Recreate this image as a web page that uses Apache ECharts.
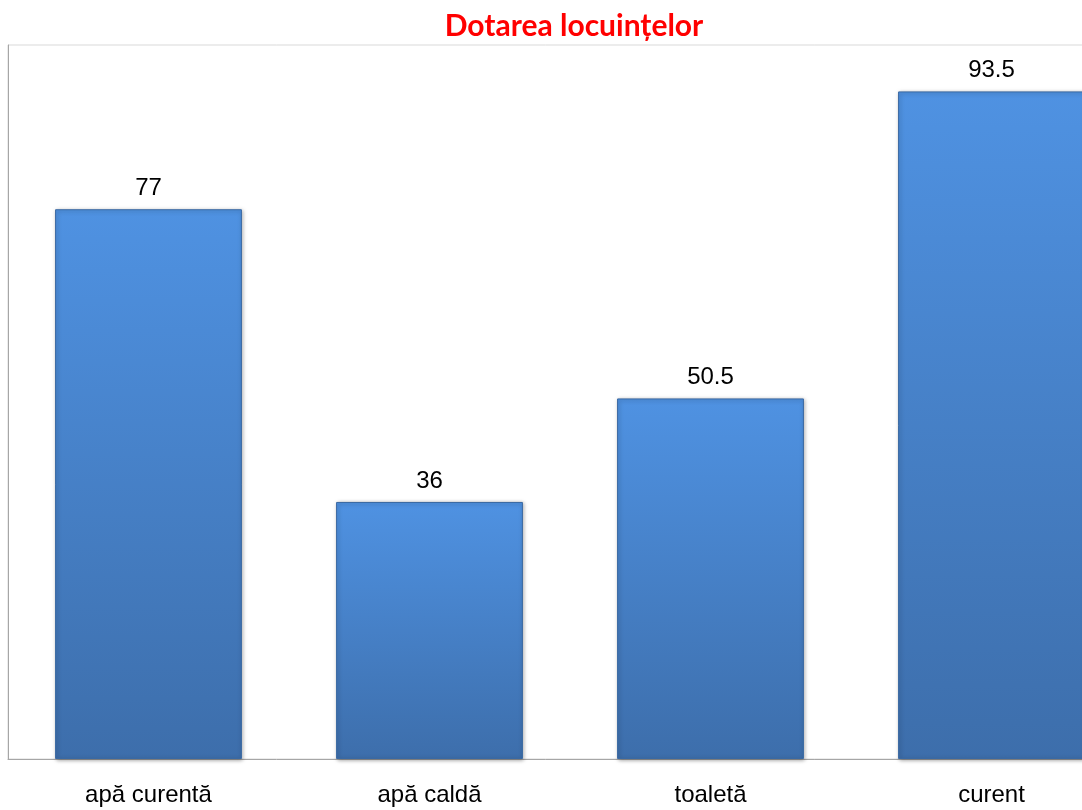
<!DOCTYPE html>
<html>
<head>
<meta charset="utf-8">
<script src="https://cdn.jsdelivr.net/npm/echarts@6/dist/echarts.min.js"></script>
<style>
  html, body { margin: 0; padding: 0; background: #fff; }
  #chart { width: 1082px; height: 810px; }
</style>
</head>
<body>
<div id="chart"></div>
<script>
// Data
const categories = ['apă curentă', 'apă caldă', 'toaletă', 'curent'];
const values = [77, 36, 50.5, 93.5];

const chart = echarts.init(document.getElementById('chart'));

// blue bars, lighter at the top
const barColor = new echarts.graphic.LinearGradient(0, 0, 0, 1, [
  { offset: 0, color: '#4f92e2' },
  { offset: 1, color: '#3d6eab' },
]);

chart.setOption({
  animation: false,
  title: {
    text: 'Dotarea locuințelor',
    left: 569,
    top: 6,
    textAlign: 'center',
    textStyle: {
      color: '#ff0000',
      fontFamily: 'Lato',
      fontWeight: 'bold',
      fontSize: 30,
    },
  },
  // plot area runs past the right edge of the picture
  grid: {
    left: 8,
    width: 1124,
    top: 45,
    bottom: 51,
    outerBoundsMode: 'none',
    containLabel: false,
    show: true,
    borderColor: '#d9d9d9',
    borderWidth: 1,
  },
  xAxis: {
    type: 'category',
    data: categories,
    axisLine: { show: true, lineStyle: { color: '#a6a6a6', width: 1 } },
    axisTick: { show: false },
    axisLabel: {
      margin: 24,
      color: '#000',
      fontFamily: 'Liberation Sans',
      fontSize: 24,
    },
  },
  yAxis: {
    type: 'value',
    min: 0,
    max: 100,
    interval: 20,
    axisLine: { show: true, lineStyle: { color: '#a6a6a6', width: 1 } },
    axisTick: { show: false },
    axisLabel: { show: false },
    splitLine: { show: false },
  },
  series: [
    {
      type: 'bar',
      data: values,
      barCategoryGap: '33.5%',
      itemStyle: {
        color: barColor,
        borderColor: '#3a69a3',
        borderWidth: 1,
        shadowColor: 'rgba(0,0,0,0.35)',
        shadowBlur: 4,
        shadowOffsetX: 1,
        shadowOffsetY: 1,
      },
      label: {
        show: true,
        position: 'top',
        distance: 9,
        color: '#000',
        fontFamily: 'Liberation Sans',
        fontSize: 24,
      },
    },
  ],
});
</script>
</body>
</html>
